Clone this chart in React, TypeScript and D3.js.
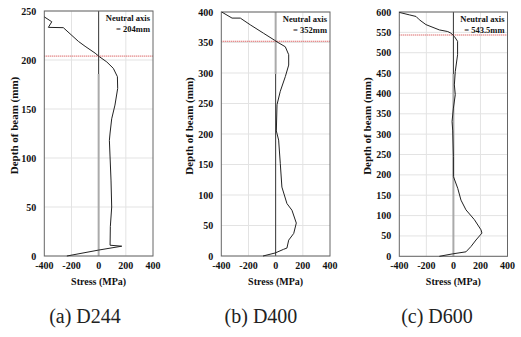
import React from "react";
import * as d3 from "d3";

// ---- Data ----
const stressTicks = [-400, -200, 0, 200, 400];

const aDepth = [244, 239, 233.3, 233, 219, 214, 207, 203.4, 198, 191.5, 183, 171, 154, 140, 125.5, 118, 77.5, 50, 30, 11, 10, 6, 0];
const aStress = [-400, -345, -370, -260, -149, -100, -26, 5, 60, 108, 138, 140, 120, 96, 84, 79, 91, 96, 86, 84, 170, -2, -234];
const aDepthTicks = [0, 50, 100, 150, 200, 250];

const bDepth = [400, 390, 390, 379, 365, 354, 351, 343, 330, 313, 294, 270, 248, 205, 190, 152, 113, 86, 75, 54, 37, 26, 13, 11, 5, 0];
const bStress = [-397, -321, -260, -187, -88, -10, 10, 71, 96, 96, 71, 34, 10, 5, 22, 34, 46, 83, 120, 152, 133, 96, 83, 59, -3, -93];
const bDepthTicks = [0, 50, 100, 150, 200, 250, 300, 350, 400];

const cDepth = [599, 593, 589, 581, 569, 556, 552, 548, 540, 528, 495, 454, 421, 397, 364, 331, 308, 245, 196, 167, 138, 114, 90, 65, 57, 40, 24, 11, 6, 0];
const cStress = [-400, -326, -276, -252, -203, -104, -42, -18, 7, 31, 31, 14, 7, 14, 0, -10, -5, 0, 0, 32, 56, 93, 155, 204, 211, 167, 130, 93, -5, -104];
const cDepthTicks = [0, 50, 100, 150, 200, 250, 300, 350, 400, 450, 500, 550, 600];

const neutralAxes = [204, 352, 543.5];
const neutralLabels = ["= 204mm", "= 352mm", "= 543.5mm"];
const captions = ["(a) D244", "(b) D400", "(c) D600"];

const serif = "Liberation Serif, Tinos, Times New Roman, DejaVu Serif, serif";

type PanelProps = {
  left: number;
  right: number;
  top: number;
  bottom: number;
  yMax: number;
  depth: number[];
  stress: number[];
  yTicks: number[];
  na: number;
  naLabel: string;
  caption: string;
  captionX: number;
  titleX: number;
  topDarkZero: boolean;
};

const SEAM = 74;

function Panel(p: PanelProps) {
  const x = d3.scaleLinear().domain([-400, 400]).range([p.left, p.right]);
  const y = d3.scaleLinear().domain([0, p.yMax]).range([p.bottom, p.top]);
  const pts: [number, number][] = p.depth.map((d, i) => [p.stress[i], d]);
  const line = d3
    .line<[number, number]>()
    .x((d) => x(d[0]))
    .y((d) => y(d[1]));
  const x0 = x(0);
  const dark = { stroke: "#333", strokeWidth: 1 };
  const light = { stroke: "#aaa", strokeWidth: 2 };
  const topStyle = p.topDarkZero ? dark : light;
  const botStyle = p.topDarkZero ? light : dark;
  return (
    <g>
      {p.yTicks.map((t) => (
        <line key={"h" + t} x1={p.left} x2={p.right} y1={y(t)} y2={y(t)} stroke="#e3e3e3" strokeWidth={1} />
      ))}
      {[-200, 200].map((t) => (
        <line key={"v" + t} x1={x(t)} x2={x(t)} y1={p.top} y2={p.bottom} stroke="#e3e3e3" strokeWidth={1} />
      ))}
      <line x1={x0} x2={x0} y1={p.top} y2={SEAM} {...topStyle} />
      <line x1={x0} x2={x0} y1={SEAM} y2={p.bottom} {...botStyle} />
      <line
        x1={p.left}
        x2={p.right}
        y1={y(p.na)}
        y2={y(p.na)}
        stroke="#d03030"
        strokeWidth={1}
        strokeDasharray="1,1"
      />
      <rect x={p.left} y={p.top} width={p.right - p.left} height={p.bottom - p.top} fill="none" stroke="#666" strokeWidth={1} />
      <path d={line(pts) || ""} fill="none" stroke="#222" strokeWidth={1} />
      <text x={p.right - 3} y={p.top + 10} textAnchor="end" style={{ fontFamily: serif }} fontWeight="bold" fontSize={8.5} fill="#111">
        Neutral axis
      </text>
      <text x={p.right - 3} y={p.top + 21} textAnchor="end" style={{ fontFamily: serif }} fontWeight="bold" fontSize={8.5} fill="#111">
        {p.naLabel}
      </text>
      {p.yTicks.map((t) => (
        <text key={"yt" + t} x={p.left - 8} y={y(t) + 3.5} textAnchor="end" style={{ fontFamily: serif }} fontWeight="bold" fontSize={10} fill="#111">
          {t}
        </text>
      ))}
      {stressTicks.map((t) => (
        <text key={"xt" + t} x={x(t)} y={p.bottom + 13} textAnchor="middle" style={{ fontFamily: serif }} fontWeight="bold" fontSize={10} fill="#111">
          {t}
        </text>
      ))}
      <text x={x0} y={p.bottom + 29} textAnchor="middle" style={{ fontFamily: serif }} fontWeight="bold" fontSize={10} fill="#111">
        Stress (MPa)
      </text>
      <text
        transform={`translate(${p.titleX},${(p.top + p.bottom) / 2 - 8}) rotate(-90)`}
        textAnchor="middle"
        style={{ fontFamily: serif }}
        fontWeight="bold"
        fontSize={11}
        fill="#111"
      >
        Depth of beam (mm)
      </text>
      <text x={p.captionX} y={323} textAnchor="middle" style={{ fontFamily: serif }} fontSize={20} fill="#222">
        {p.caption}
      </text>
    </g>
  );
}

export default function App() {
  return (
    <svg width={521} height={337} style={{ position: "absolute", left: 0, top: 0, background: "#fff" }}>
      <rect x={0} y={0} width={521} height={337} fill="#fff" />
      <Panel
        left={44.3}
        right={153}
        top={11}
        bottom={256}
        yMax={250}
        depth={aDepth}
        stress={aStress}
        yTicks={aDepthTicks}
        na={neutralAxes[0]}
        naLabel={neutralLabels[0]}
        caption={captions[0]}
        captionX={85}
        titleX={18}
        topDarkZero={true}
      />
      <Panel
        left={221.3}
        right={330}
        top={12}
        bottom={256}
        yMax={400}
        depth={bDepth}
        stress={bStress}
        yTicks={bDepthTicks}
        na={neutralAxes[1]}
        naLabel={neutralLabels[1]}
        caption={captions[1]}
        captionX={261}
        titleX={193}
        topDarkZero={false}
      />
      <Panel
        left={399.3}
        right={507.5}
        top={12}
        bottom={256.3}
        yMax={600}
        depth={cDepth}
        stress={cStress}
        yTicks={cDepthTicks}
        na={neutralAxes[2]}
        naLabel={neutralLabels[2]}
        caption={captions[2]}
        captionX={437}
        titleX={371}
        topDarkZero={true}
      />
    </svg>
  );
}
